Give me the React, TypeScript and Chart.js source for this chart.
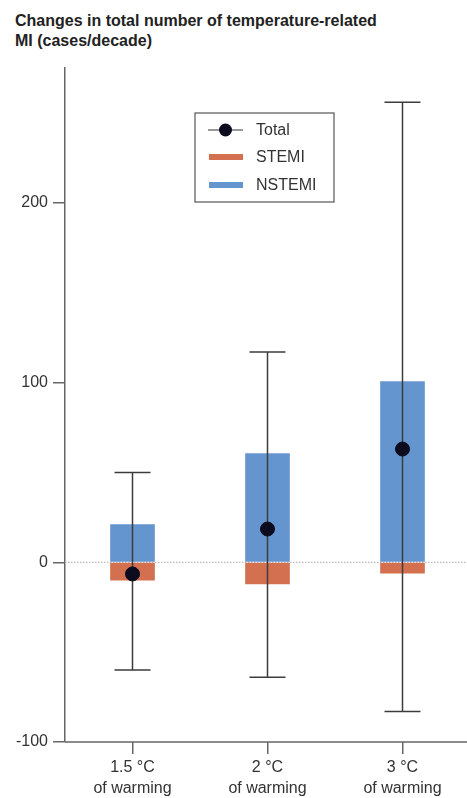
import React, { useEffect, useRef } from 'react';
import { Chart, registerables } from 'chart.js';
Chart.register(...registerables);

const categories = [
  ['1.5 °C', 'of warming'],
  ['2 °C', 'of warming'],
  ['3 °C', 'of warming'],
];
const stemi = [-10, -12, -6];
const nstemi = [21, 60.5, 100.5];
const total = [-6.5, 18.5, 63];
const totalLow = [-60, -64, -83];
const totalHigh = [50, 117, 256];
const yTicks = [-100, 0, 100, 200];

const FONT = '"Liberation Sans", Arial, sans-serif';
const AXIS = '#666666';
const TEXT = '#333333';
const STEMI_COLOR = '#d2704f';
const NSTEMI_COLOR = '#6595cf';
const TOTAL_COLOR = '#0c0c1e';

const zeroLine = {
  id: 'zeroLine',
  beforeDatasetsDraw(chart: any) {
    const { ctx, chartArea } = chart;
    const y = chart.scales.y.getPixelForValue(0);
    ctx.save();
    ctx.strokeStyle = '#a8a8a8';
    ctx.lineWidth = 1;
    ctx.setLineDash([1.5, 1.5]);
    ctx.beginPath();
    ctx.moveTo(chartArea.left, y);
    ctx.lineTo(chart.width, y);
    ctx.stroke();
    ctx.restore();
  },
};

const xAxisLine = {
  id: 'xAxisLine',
  afterDraw(chart: any) {
    const { ctx, chartArea } = chart;
    ctx.save();
    ctx.strokeStyle = AXIS;
    ctx.lineWidth = 1.5;
    ctx.beginPath();
    ctx.moveTo(chartArea.left, chartArea.bottom);
    ctx.lineTo(chart.width, chartArea.bottom);
    ctx.stroke();
    ctx.restore();
  },
};

const errorBars = {
  id: 'errorBars',
  beforeDatasetDraw(chart: any, args: any) {
    if (args.index !== 0) return;
    const { ctx } = chart;
    const xs = chart.scales.x;
    const ys = chart.scales.y;
    ctx.save();
    ctx.strokeStyle = '#3c3c3c';
    ctx.lineWidth = 1.5;
    total.forEach((_, i) => {
      const px = xs.getPixelForValue(i);
      const top = ys.getPixelForValue(totalHigh[i]);
      const bot = ys.getPixelForValue(totalLow[i]);
      ctx.beginPath();
      ctx.moveTo(px, top);
      ctx.lineTo(px, bot);
      ctx.moveTo(px - 18, top);
      ctx.lineTo(px + 18, top);
      ctx.moveTo(px - 18, bot);
      ctx.lineTo(px + 18, bot);
      ctx.stroke();
    });
    ctx.restore();
  },
};

const boxLegend = {
  id: 'boxLegend',
  afterDraw(chart: any) {
    const { ctx } = chart;
    const ds = chart.data.datasets;
    const bx = 195, by = 113, bw = 139, bh = 89;
    ctx.save();
    ctx.strokeStyle = '#555';
    ctx.lineWidth = 1.2;
    ctx.strokeRect(bx, by, bw, bh);
    ctx.font = `16px ${FONT}`;
    ctx.fillStyle = TEXT;
    ctx.textBaseline = 'middle';
    const rows = [130, 157, 185];
    ds.forEach((d: any, i: number) => {
      const cy = rows[i];
      if (i === 0) {
        ctx.strokeStyle = '#333';
        ctx.lineWidth = 1.2;
        ctx.beginPath();
        ctx.moveTo(208, cy);
        ctx.lineTo(243, cy);
        ctx.stroke();
        ctx.fillStyle = TOTAL_COLOR;
        ctx.beginPath();
        ctx.arc(225.5, cy, 6.5, 0, Math.PI * 2);
        ctx.fill();
      } else {
        ctx.fillStyle = d.backgroundColor;
        ctx.fillRect(209, cy - 3, 34, 6);
      }
      ctx.fillStyle = TEXT;
      ctx.fillText(d.label, 256, cy + 1);
    });
    ctx.restore();
  },
};

export default function App() {
  const ref = useRef<HTMLCanvasElement>(null);
  useEffect(() => {
    if (!ref.current) return;
    const chart = new Chart(ref.current, {
      type: 'bar',
      data: {
        labels: categories as any,
        datasets: [
          {
            type: 'line',
            label: 'Total',
            data: total,
            showLine: false,
            pointRadius: 7,
            pointHoverRadius: 7,
            backgroundColor: TOTAL_COLOR,
            borderColor: TOTAL_COLOR,
            stack: 'total',
          } as any,
          {
            label: 'STEMI',
            data: stemi,
            backgroundColor: STEMI_COLOR,
            barThickness: 44,
            stack: 'bars',
          },
          {
            label: 'NSTEMI',
            data: nstemi,
            backgroundColor: NSTEMI_COLOR,
            barThickness: 44,
            stack: 'bars',
          },
        ],
      },
      options: {
        animation: false,
        responsive: false,
        layout: { padding: { top: 68, left: 0, right: 0, bottom: 0 } },
        plugins: { legend: { display: false }, tooltip: { enabled: false }, title: { display: false } },
        scales: {
          x: {
            stacked: true,
            offset: true,
            afterFit: (s: any) => { s.height = 56; },
            grid: { drawOnChartArea: false, offset: false, tickLength: 12, color: AXIS, lineWidth: 1.5 },
            border: { display: false },
            ticks: { font: { family: FONT, size: 16, lineHeight: 1.3 }, color: TEXT, padding: 3, maxRotation: 0 },
          },
          y: {
            stacked: true,
            min: -100,
            max: 275,
            afterBuildTicks: (s: any) => { s.ticks = yTicks.map((v) => ({ value: v })); },
            afterFit: (s: any) => { s.width = 65; },
            grid: { drawOnChartArea: false, tickLength: 12, color: AXIS, lineWidth: 1.5 },
            border: { color: AXIS, width: 1.5 },
            ticks: { font: { family: FONT, size: 16 }, color: TEXT, padding: 5 },
          },
        },
      },
      plugins: [zeroLine, errorBars, xAxisLine, boxLegend],
    });
    return () => chart.destroy();
  }, []);
  return (
    <div style={{ position: 'fixed', left: 0, top: 0, width: 467, height: 798, overflow: 'hidden', background: '#fff' }}>
      <div
        style={{
          position: 'absolute',
          left: 15,
          top: 11,
          font: `bold 16px ${FONT}`,
          lineHeight: '20px',
          color: '#222',
          letterSpacing: '0px',
        }}
      >
        Changes in total number of temperature-related
        <br />
        MI (cases/decade)
      </div>
      <canvas ref={ref} width={478} height={798} style={{ position: 'absolute', left: 0, top: 0 }} />
    </div>
  );
}
